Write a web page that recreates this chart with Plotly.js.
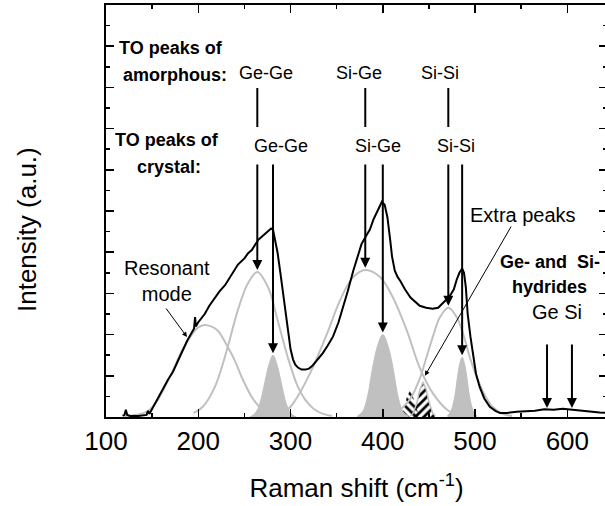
<!DOCTYPE html>
<html>
<head>
<meta charset="utf-8">
<script src="https://cdn.plot.ly/plotly-3.0.1.min.js"></script>
<style>
html,body{margin:0;padding:0;overflow:hidden;background:#fff;}
#chart{width:609px;height:506px;}
</style>
</head>
<body>
<div id="chart"></div>
<script>
// ---- Measured spectrum (black) ----
const specX = [118,120,121.5,123,126,135,144,145.5,147,150,153,158,162,167,172.6,178,183.5,188,193,195.5,196.5,197.5,200,204,207,212,218,223,229,236,243,250,254,258,262,265,270,275.6,279,281,283,286,289,292,295,297,300,302.7,305,308,312,316,320,324,330,335,340,346,352,357,362,368,372,377,382,386,390,394,397,399,402,405,408,410,413,416,419,424,430,435,440,447,454,460,465,469,473,477,480,483,486,488,490,492,495,498,501,505,510,516,522,527,535,545,555,565,575,585,595,605,615,625,635,643];
const specY = [0.05,0.1,0.35,0.1,0.05,0.05,0.1,0.3,0.15,0.4,0.7,1.05,1.4,1.8,2.2,2.75,3.3,3.7,4.1,4.3,4.85,4.4,4.6,4.85,5.0,5.4,5.8,6.1,6.4,6.9,7.4,7.7,7.95,8.1,8.4,8.6,8.8,9.0,9.15,9.1,8.7,7.96,7.0,6.0,4.9,4.1,3.3,2.8,2.55,2.4,2.3,2.3,2.35,2.5,2.8,3.1,3.45,3.9,4.6,5.3,6.1,7.1,7.7,8.4,8.8,9.1,9.6,10.0,10.3,10.45,10.3,9.7,8.6,7.8,7.1,6.8,6.6,6.2,5.8,5.6,5.4,5.3,5.25,5.3,5.5,5.7,5.9,6.2,6.65,7.0,7.2,7.0,6.3,5.0,3.9,2.9,2.1,1.46,0.9,0.5,0.3,0.2,0.2,0.25,0.28,0.3,0.38,0.35,0.4,0.35,0.3,0.25,0.22,0.2];

// ---- Fitted amorphous components (grey lines) ----
const resX = [120,135,145,155,162,172,182,193,200,207,214,221,232,240,247,258,265,272,285,300];
const resY = [0.05,0.12,0.28,0.75,1.3,2.2,3.2,4.0,4.35,4.47,4.4,4.2,3.4,2.7,1.94,0.97,0.55,0.28,0.08,0.02];
const aGeGeX = [195,205,218,231,243,254,264,276,286,297,308,316,325,335,345];
const aGeGeY = [0.2,0.5,1.46,3.25,5.2,6.5,7.04,6.26,4.7,2.9,1.46,0.83,0.4,0.15,0.05];
const aSiGeX = [290,300,310,324,340,354,368,381,397,411,426,440,454,470,480];
const aSiGeY = [0.15,0.5,1.17,2.4,4.1,5.7,6.8,7.14,6.8,5.8,4.2,2.4,1.17,0.34,0.12];
const aSiSiX = [420,430,440,448,455,462,471,480,488,495,505,512,519,530,540];
const aSiSiY = [0.4,0.9,1.85,3.0,4.0,4.85,5.3,4.85,3.9,2.8,1.6,0.95,0.5,0.15,0.05];

// ---- Crystalline components (grey filled) ----
const cGeGeX = [256,262,267,272,277,281,285,290,295,300,306];
const cGeGeY = [0,0.2,0.7,1.65,2.6,3.0,2.6,1.65,0.7,0.2,0];
const cSiGeX = [372,378,383,389,394,400,406,411,417,422,428];
const cSiGeY = [0.03,0.25,0.9,2.4,3.4,4.0,3.4,2.4,0.9,0.25,0.03];
const cSiSiX = [470,474,478,481,483.5,486,488.5,491,494,498,502];
const cSiSiY = [0.05,0.3,1.0,1.95,2.6,2.9,2.6,1.95,1.0,0.3,0.05];

// ---- Extra peaks (hatched) ----
const ex1X = [417,420,423,426,429.5,433,436,439,442];
const ex1Y = [0.03,0.15,0.45,0.95,1.3,0.95,0.45,0.15,0.03];
const ex2X = [430,433,437,440,443.6,447,450,454,457];
const ex2Y = [0.05,0.2,0.7,1.3,1.7,1.35,0.75,0.2,0.05];

// ---- Hydride positions ----
const hydrideX = [578, 605];

// ---- Axis ticks ----
const xTickVals = [100,200,300,400,500,600];
const xTickText = ['100','200','300','400','500','600'];

// pixel helpers for label placement (plot area: x 106..607, y 5..417)
const X0 = 100, X1 = 643, Y0 = 0, Y1 = 20;
const L = 106, W = 501, T = 5, H = 412;
function dx(px){ return X0 + (px - L) / W * (X1 - X0); }
function dy(py){ return Y0 + (T + H - py) / H * (Y1 - Y0); }
function peak(xs, ys){ let i = ys.indexOf(Math.max(...ys)); return [xs[i], ys[i]]; }

const GREY = '#c0c0c0';
const traces = [
  {x: ex1X, y: ex1Y, mode:'lines', line:{width:0, color:'rgba(0,0,0,0)'}, fill:'tozeroy', fillcolor:'rgba(0,0,0,0)',
   fillpattern:{shape:'\\', fgcolor:'#000', bgcolor:'rgba(0,0,0,0)', size:6, solidity:0.45}},
  {x: ex2X, y: ex2Y, mode:'lines', line:{width:1.5, color:GREY}, fill:'tozeroy', fillcolor:'rgba(0,0,0,0)',
   fillpattern:{shape:'/', fgcolor:'#000', bgcolor:'rgba(0,0,0,0)', size:6, solidity:0.45}},
  {x: cGeGeX, y: cGeGeY, mode:'lines', line:{width:1, color:GREY, shape:'spline'}, fill:'tozeroy', fillcolor:GREY},
  {x: cSiGeX, y: cSiGeY, mode:'lines', line:{width:1, color:GREY, shape:'spline'}, fill:'tozeroy', fillcolor:GREY},
  {x: cSiSiX, y: cSiSiY, mode:'lines', line:{width:1, color:GREY, shape:'spline'}, fill:'tozeroy', fillcolor:GREY},
  {x: resX, y: resY, mode:'lines', line:{width:2, color:GREY, shape:'spline'}},
  {x: aGeGeX, y: aGeGeY, mode:'lines', line:{width:2, color:GREY, shape:'spline'}},
  {x: aSiGeX, y: aSiGeY, mode:'lines', line:{width:2, color:GREY, shape:'spline'}},
  {x: aSiSiX, y: aSiSiY, mode:'lines', line:{width:2, color:GREY, shape:'spline'}},
  {x: specX, y: specY, mode:'lines', line:{width:2, color:'#000'}}
];

const F = 'Arial, "Liberation Sans", Helvetica, sans-serif';
const ann = [];
function txt(t, px, py, size, anchor){
  ann.push({text:t, x:dx(px), y:dy(py), xref:'x', yref:'y', showarrow:false, xanchor:anchor||'center', yanchor:'middle',
    font:{family:F, size:size, color:'#000'}});
}
function arrow(x, yTip, xTail, yTail, w, head){
  ann.push({x:x, y:yTip, ax:xTail, ay:yTail, xref:'x', yref:'y', axref:'x', ayref:'y', text:'', showarrow:true,
    arrowhead:head||2, arrowsize:1, arrowwidth:w||2, arrowcolor:'#000', standoff:0});
}
// labels
txt('<b>TO peaks of</b>', 117, 48, 18, 'left');
txt('<b>amorphous:</b>', 121, 75, 18, 'left');
txt('<b>TO peaks of</b>', 113, 140, 18, 'left');
txt('<b>crystal:</b>', 135, 167, 18, 'left');
txt('Ge-Ge', 266, 73, 18);
txt('Si-Ge', 359, 73, 18);
txt('Si-Si', 440, 73, 18);
txt('Ge-Ge', 281, 146, 18);
txt('Si-Ge', 378, 146, 18);
txt('Si-Si', 456, 146, 18);
txt('Resonant<br>mode', 167, 281, 20);
txt('Extra peaks', 523, 215, 20);
txt('<b>Ge- and  Si-</b>', 498, 262, 18, 'left');
txt('<b>hydrides</b>', 549, 287, 18);
txt('Ge Si', 557, 312, 20);

// arrows to peaks
const amPeaks = [peak(aGeGeX,aGeGeY), peak(aSiGeX,aSiGeY), peak(aSiSiX,aSiSiY)];
const crPeaks = [peak(cGeGeX,cGeGeY), peak(cSiGeX,cSiGeY), peak(cSiSiX,cSiSiY)];
const shapes = [];
amPeaks.forEach(p => {
  shapes.push({type:'line', xref:'x', yref:'y', x0:p[0], x1:p[0], y0:dy(88), y1:dy(127), line:{color:'#000', width:2}});
  arrow(p[0], p[1]+0.1, p[0], dy(163), 2, 2);
});
crPeaks.forEach(p => { arrow(p[0], p[1]+0.1, p[0], dy(163), 2, 2); });
hydrideX.forEach(h => arrow(h, dy(408), h, dy(343), 2, 2));
arrow(dx(187), dy(337), dx(165), dy(307), 1, 2);
arrow(peak(ex2X,ex2Y)[0]+2, peak(ex2X,ex2Y)[1]+0.3, dx(512), dy(225), 1, 2);

// y title
ann.push({text:'Intensity (a.u.)', xref:'paper', yref:'paper', x:(27-L)/W, y:(T+H-230)/H, showarrow:false,
  textangle:-90, xanchor:'center', yanchor:'middle', font:{family:F, size:26, color:'#000'}});

const layout = {
  width:609, height:506,
  margin:{l:L, r:609-L-W, t:T, b:506-T-H, pad:0},
  paper_bgcolor:'#fff', plot_bgcolor:'#fff',
  showlegend:false,
  font:{family:F, color:'#000'},
  xaxis:{range:[X0,X1], tickvals:xTickVals, ticktext:xTickText, ticks:'inside', ticklen:8, tickwidth:1.5, tickcolor:'#000',
    minor:{dtick:50, tick0:100, ticks:'inside', ticklen:4, tickwidth:1.5, tickcolor:'#000', showgrid:false},
    showline:true, linewidth:2, linecolor:'#000', mirror:'allticks', showgrid:false, zeroline:false,
    tickfont:{family:F, size:26, color:'#000'},
    title:{text:'Raman shift (cm<sup>-1</sup>)', font:{family:F, size:26, color:'#000'}, standoff:24}},
  yaxis:{range:[Y0,Y1], dtick:2, tick0:0, ticks:'inside', ticklen:8, tickwidth:1.5, tickcolor:'#000', showticklabels:false,
    minor:{dtick:1, tick0:0, ticks:'inside', ticklen:4, tickwidth:1.5, tickcolor:'#000', showgrid:false},
    showline:true, linewidth:2, linecolor:'#000', mirror:'allticks', showgrid:false, zeroline:false},
  annotations:ann,
  shapes:shapes
};
Plotly.newPlot('chart', traces, layout, {staticPlot:true, displayModeBar:false});
</script>
</body>
</html>
